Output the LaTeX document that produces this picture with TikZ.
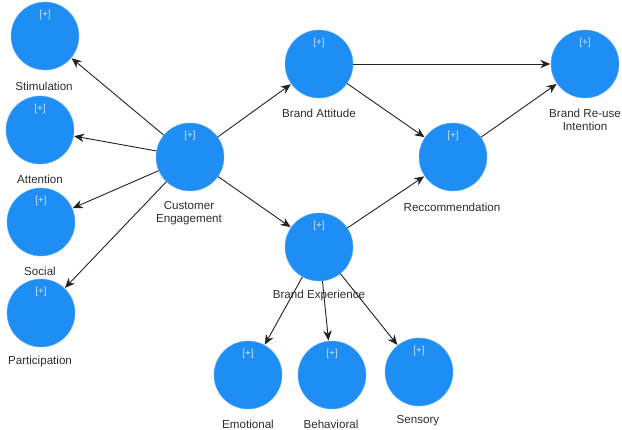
\documentclass[tikz,border=0pt]{standalone}
\usepackage{fontspec}
\setmainfont{Liberation Sans}
\usetikzlibrary{arrows.meta}
\definecolor{lvblue}{RGB}{30,142,245}
\definecolor{plusgray}{RGB}{205,228,252}
\definecolor{labgray}{RGB}{45,45,45}
\definecolor{edgegray}{RGB}{35,35,35}
\tikzset{
  latent/.style={circle, fill=lvblue, draw=lvblue!70!white, line width=0.4pt,
    minimum size=68pt, inner sep=0pt,
    label={[anchor=north, yshift=-5pt, text=plusgray, font=\fontsize{10}{11}\selectfont]north:{[+]}}},
  caption/.style={text=labgray, font=\fontsize{11.6}{13.5}\selectfont, align=center, inner sep=0pt},
  path/.style={draw=edgegray, line width=0.9pt, -{Stealth[length=10pt,width=8.5pt]}, shorten >=0.5pt}
}
\begin{document}
\begin{tikzpicture}[x=1pt, y=-1pt]
  \useasboundingbox (0,0) rectangle (622,430);
  \fill[white] (0,0) rectangle (622,430);

  % latent constructs
  \node[latent] (stim) at (45,36) {};
  \node[latent] (att)  at (40,130) {};
  \node[latent] (soc)  at (41,222) {};
  \node[latent] (part) at (41,313) {};
  \node[latent] (ce)   at (190,157) {};
  \node[latent] (ba)   at (319,64) {};
  \node[latent] (be)   at (319,247) {};
  \node[latent] (rec)  at (453,157) {};
  \node[latent] (bri)  at (585,64) {};
  \node[latent] (emo)  at (248,375) {};
  \node[latent] (beh)  at (332,375) {};
  \node[latent] (sen)  at (419,372) {};

  % construct names
  \node[caption] (stimL) at (44,86) {Stimulation};
  \node[caption] (attL)  at (40,179) {Attention};
  \node[caption] (socL)  at (40,271) {Social};
  \node[caption] (partL) at (40,362) {Participation};
  \node[caption] (ceL)   at (189,213) {Customer\\Engagement};
  \node[caption] (baL)   at (319,113) {Brand Attitude};
  \node[caption] (recL)  at (452,207) {Reccommendation};
  \node[caption] (briL)  at (585,120) {Brand Re-use\\Intention};
  \node[caption] (emoL)  at (248,424) {Emotional};
  \node[caption] (behL)  at (331,424) {Behavioral};
  \node[caption] (senL)  at (418,421) {Sensory};

  % structural paths
  \draw[path] (ce) -- (stim);
  \draw[path] (ce) -- (att);
  \draw[path] (ce) -- (soc);
  \draw[path] (ce) -- (part);
  \draw[path] (ce) -- (ba);
  \draw[path] (ce) -- (be);
  \draw[path] (ba) -- (bri);
  \draw[path] (ba) -- (rec);
  \draw[path] (be) -- (rec);
  \draw[path] (rec) -- (bri);
  \draw[path] (be) -- (emo);
  \draw[path] (be) -- (beh);
  \draw[path] (be) -- (sen);

  % this caption sits over the outgoing paths
  \node[caption] (beL) at (319,296) {Brand Experience};
\end{tikzpicture}
\end{document}
